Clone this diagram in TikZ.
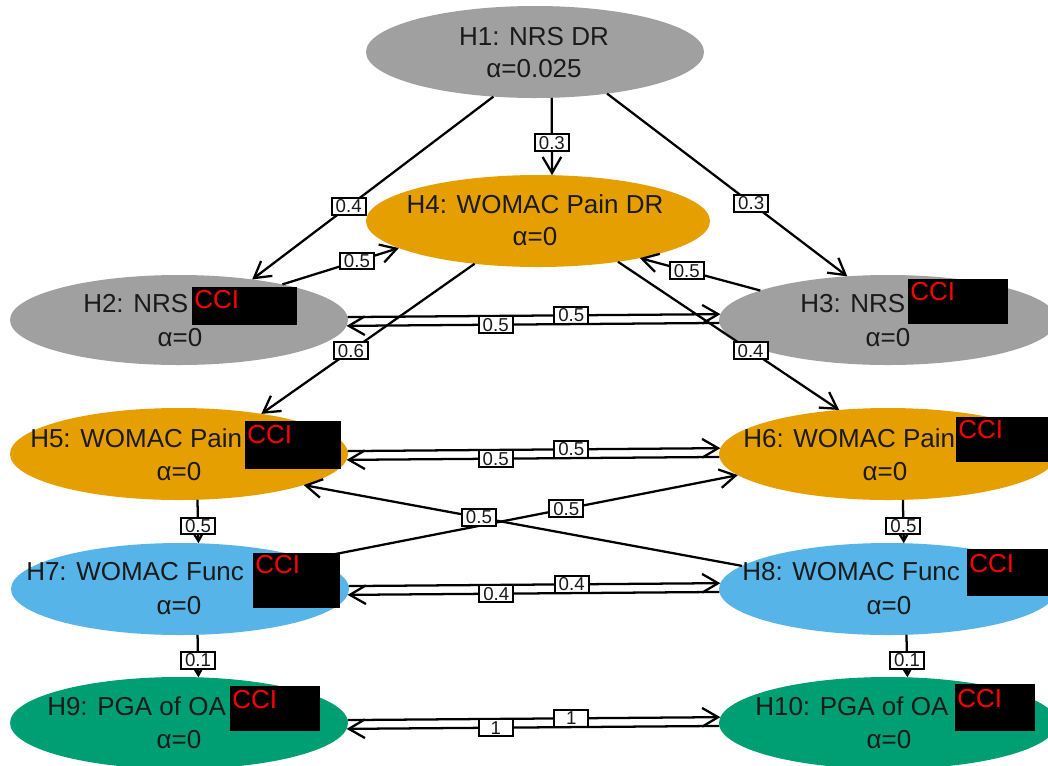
\documentclass[tikz,border=0pt]{standalone}
\usepackage{fontspec}
\setmainfont{Liberation Sans}
\usetikzlibrary{arrows.meta,shapes.geometric}
\definecolor{cgray}{HTML}{A0A0A0}
\definecolor{corange}{HTML}{E69F00}
\definecolor{cblue}{HTML}{56B4E9}
\definecolor{cgreen}{HTML}{009E73}
\definecolor{ctext}{HTML}{1A1A1A}
\begin{document}
\begin{tikzpicture}[x=0.75pt,y=-0.75pt,
  hyp/.style={ellipse, inner sep=0pt, outer sep=0pt, draw=none, minimum width=253.5pt, minimum height=69pt},
  ttl/.style={font=\fontsize{19.5}{23}\selectfont, text=ctext, inner sep=0pt, anchor=base west},
  alf/.style={font=\fontsize{19.5}{23}\selectfont, text=ctext, inner sep=0pt, anchor=base},
  edge/.style={line width=1.7pt, -{Straight Barb[length=12pt,width=14pt]}},
  wlab/.style={draw=black, line width=1.5pt, fill=white, font=\fontsize{14}{14}\selectfont, inner sep=0.5pt, minimum width=25.5pt, minimum height=12.5pt, text=ctext},
  redact/.style={fill=black},
  cci/.style={font=\fontsize{19.5}{23}\selectfont, text=red, inner sep=0pt, anchor=base west}
]
\clip (0,0) rectangle (1048,765);
\useasboundingbox (0,0) rectangle (1048,765);
\fill[white] (0,0) rectangle (1048,765);

% hypotheses
\node[hyp, fill=cgray] (h1) at (535,52) {};
\node[hyp, fill=corange, minimum width=258pt] (h4) at (538,221) {};
\node[hyp, fill=cgray, minimum height=67.5pt] (h2) at (179,320) {};
\node[hyp, fill=cgray, minimum height=67.5pt] (h3) at (888,320) {};
\node[hyp, fill=corange] (h5) at (179,454) {};
\node[hyp, fill=corange] (h6) at (888,454) {};
\node[hyp, fill=cblue] (h7) at (180,589) {};
\node[hyp, fill=cblue] (h8) at (888,589) {};
\node[hyp, fill=cgreen] (h9) at (179,723) {};
\node[hyp, fill=cgreen] (h10) at (888,723) {};

% texts
\node[alf] (t1a) at (534,45) {H1: NRS DR};
\node[alf] (t1b) at (534,77) {α=0.025};
\node[alf] (t4a) at (535,213) {H4: WOMAC Pain DR};
\node[alf] (t4b) at (535,245) {α=0};
\node[ttl] (t2a) at (83,312) {H2: NRS};
\node[alf] (t2b) at (180,346) {α=0};
\node[ttl] (t3a) at (800,312) {H3: NRS};
\node[alf] (t3b) at (888,346) {α=0};
\node[ttl] (t5a) at (30,447) {H5: WOMAC Pain};
\node[alf] (t5b) at (179,480) {α=0};
\node[ttl] (t6a) at (743,447) {H6: WOMAC Pain};
\node[alf] (t6b) at (885,480) {α=0};
\node[ttl] (t7a) at (26,580) {H7: WOMAC Func};
\node[alf] (t7b) at (179,614) {α=0};
\node[ttl] (t8a) at (742,580) {H8: WOMAC Func};
\node[alf] (t8b) at (889,614) {α=0};
\node[ttl] (t9a) at (47,715) {H9: PGA of OA};
\node[alf] (t9b) at (179,748) {α=0};
\node[ttl] (t10a) at (755,715) {H10: PGA of OA};
\node[alf] (t10b) at (889,748) {α=0};

% edges
\draw[edge] (h1.227.6) -- node[wlab,pos=0.6]{0.4} (h2.29.5);
\draw[edge] (h1.290.3) -- node[wlab,pos=0.58]{0.3} (h4.73.1);
\draw[edge] (h1.330.2) -- node[wlab,pos=0.6]{0.3} (h3.133);
\draw[edge] (h2.19.2) -- node[wlab,pos=0.64]{0.5} (h4.191.3);
\draw[edge] (h3.167.1) -- node[wlab,pos=0.61]{0.5} (h4.340.1);
\draw[edge] (h2.1.5) -- node[wlab,pos=0.6]{0.5} (h3.178.5);
\draw[edge] (h3.181.5) -- node[wlab,pos=0.6]{0.5} (h2.358.5);
\draw[edge] (h4.214.3) -- node[wlab,pos=0.58]{0.6} (h5.26);
\draw[edge] (h4.333.1) -- node[wlab,pos=0.6]{0.4} (h6.138.7);
\draw[edge] (h5.1.5) -- node[wlab,pos=0.6]{0.5} (h6.178.5);
\draw[edge] (h6.181.5) -- node[wlab,pos=0.6]{0.5} (h5.358.5);
\draw[edge] (h5.292.4) -- node[wlab,pos=0.6]{0.5} (h7.68.6);
\draw[edge] (h6.288.1) -- node[wlab,pos=0.6]{0.5} (h8.71.9);
\draw[edge] (h7.13.4) -- node[wlab,pos=0.6]{0.5} (h6.188.7);
\draw[edge] (h8.171.5) -- node[wlab,pos=0.6]{0.5} (h5.346.7);
\draw[edge] (h7.1.5) -- node[wlab,pos=0.6]{0.4} (h8.178.5);
\draw[edge] (h8.181.5) -- node[wlab,pos=0.6]{0.4} (h7.358.5);
\draw[edge] (h7.291.4) -- node[wlab,pos=0.6]{0.1} (h9.67.6);
\draw[edge] (h8.292.4) -- node[wlab,pos=0.6]{0.1} (h10.67.6);
\draw[edge] (h9.1.5) -- node[wlab,pos=0.6]{1} (h10.178.5);
\draw[edge] (h10.181.5) -- node[wlab,pos=0.6]{1} (h9.358.5);

% redaction boxes
\fill[redact] (192,287) rectangle (297,325);
\node[cci] (c2) at (194,308) {CCI};
\fill[redact] (908,279) rectangle (1008,324);
\node[cci] (c3) at (910,300) {CCI};
\fill[redact] (245,421) rectangle (341,469);
\node[cci] (c5) at (247,443) {CCI};
\fill[redact] (956,417) rectangle (1060,462);
\node[cci] (c6) at (958,438) {CCI};
\fill[redact] (253,553) rectangle (340,608);
\node[cci] (c7) at (255,573) {CCI};
\fill[redact] (967,549) rectangle (1060,596);
\node[cci] (c8) at (969,572) {CCI};
\fill[redact] (230,686) rectangle (320,731);
\node[cci] (c9) at (232,708) {CCI};
\fill[redact] (955,684) rectangle (1035,731);
\node[cci] (c10) at (957,707) {CCI};
\end{tikzpicture}
\end{document}
